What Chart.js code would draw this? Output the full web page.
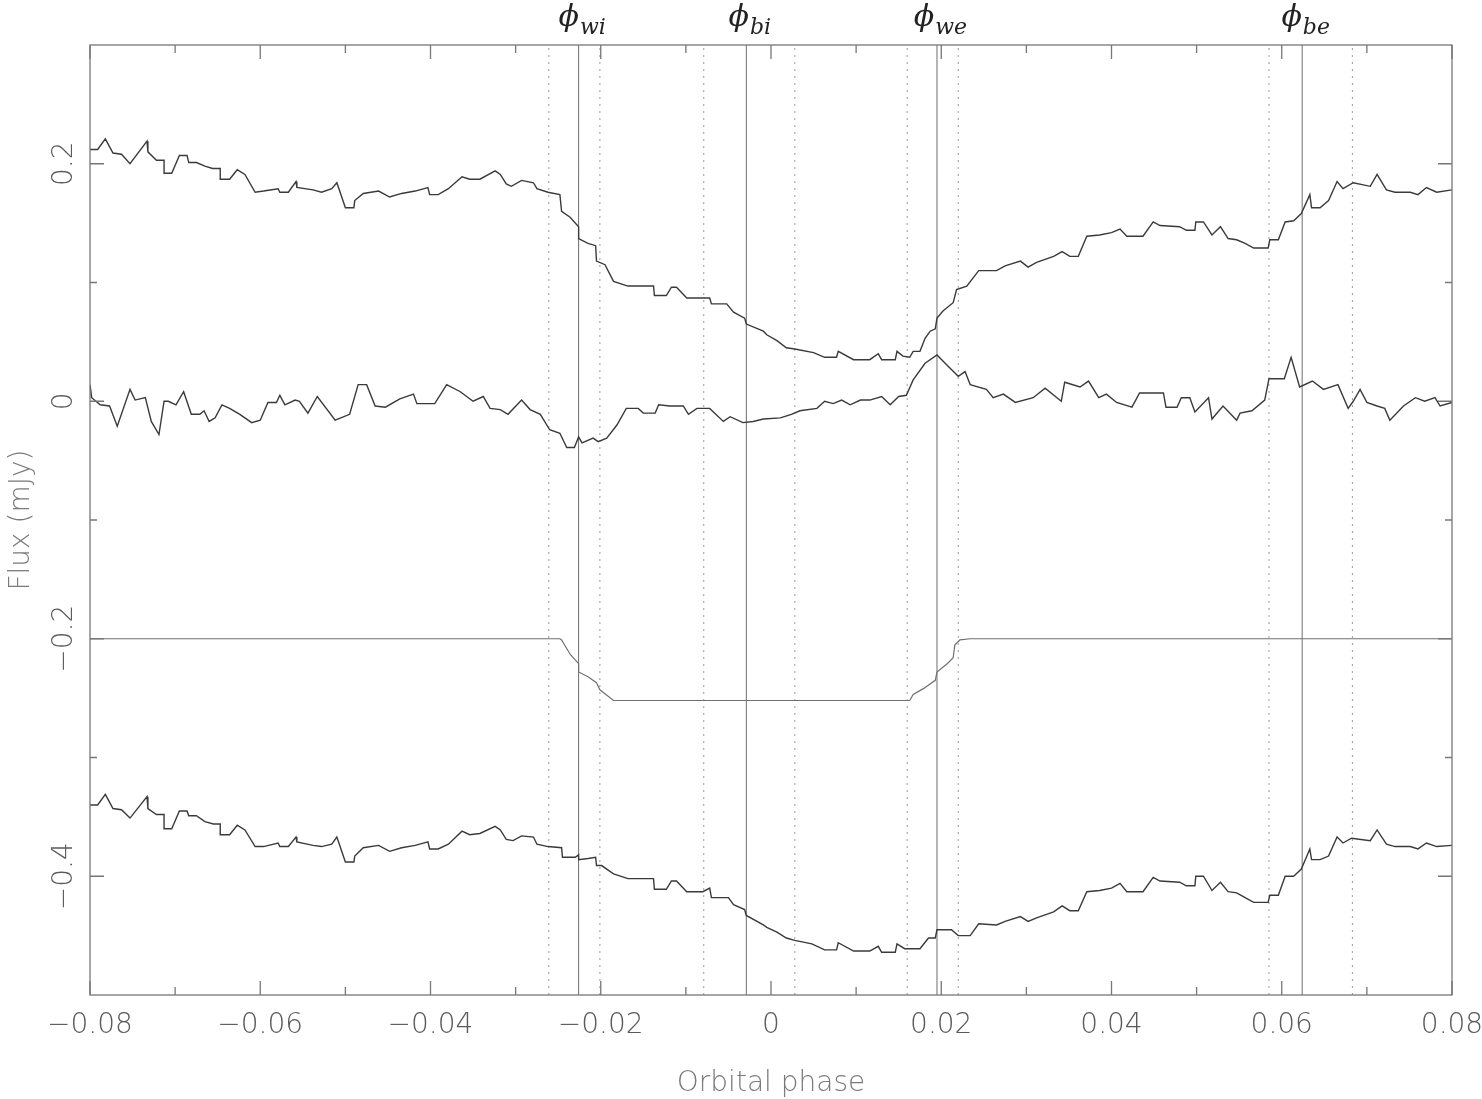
<!DOCTYPE html>
<html>
<head>
<meta charset="utf-8">
<script src="https://cdn.jsdelivr.net/npm/chart.js@4.4.0/dist/chart.umd.min.js"></script>
<style>
  html, body { margin: 0; padding: 0; background: #fff; }
  canvas { display: block; }
</style>
</head>
<body>
<canvas id="myChart" width="1482" height="1099"></canvas>
<script>
'use strict'

// observed light curve
const lcPhase = [-0.0800, -0.0791, -0.0782, -0.0773, -0.0763, -0.0753, -0.0733, -0.0732, -0.0722, -0.0713, -0.0713, -0.0704,
    -0.0695, -0.0686, -0.0684, -0.0675, -0.0665, -0.0656, -0.0647, -0.0647, -0.0636, -0.0627, -0.0618, -0.0606,
    -0.0596, -0.0579, -0.0577, -0.0567, -0.0558, -0.0557, -0.0538, -0.0528, -0.0516, -0.0510, -0.0500, -0.0490,
    -0.0489, -0.0479, -0.0461, -0.0448, -0.0434, -0.0418, -0.0403, -0.0401, -0.0391, -0.0379, -0.0363, -0.0354,
    -0.0342, -0.0324, -0.0318, -0.0311, -0.0305, -0.0293, -0.0279, -0.0275, -0.0262, -0.0248, -0.0246, -0.0236,
    -0.0226, -0.0226, -0.0215, -0.0206, -0.0205, -0.0195, -0.0185, -0.0168, -0.0138, -0.0137, -0.0123, -0.0117,
    -0.0111, -0.0099, -0.0072, -0.0070, -0.0052, -0.0044, -0.0031, -0.0029, -0.0009, -0.0005, 0.0007, 0.0018,
    0.0028, 0.0050, 0.0063, 0.0077, 0.0079, 0.0097, 0.0116, 0.0126, 0.0130, 0.0146, 0.0148, 0.0155,
    0.0163, 0.0167, 0.0175, 0.0181, 0.0187, 0.0193, 0.0195, 0.0202, 0.0214, 0.0218, 0.0230, 0.0244,
    0.0265, 0.0275, 0.0293, 0.0302, 0.0312, 0.0332, 0.0342, 0.0351, 0.0361, 0.0371, 0.0386, 0.0400,
    0.0410, 0.0418, 0.0437, 0.0449, 0.0457, 0.0480, 0.0488, 0.0498, 0.0499, 0.0508, 0.0518, 0.0528,
    0.0537, 0.0547, 0.0557, 0.0567, 0.0584, 0.0586, 0.0596, 0.0604, 0.0614, 0.0623, 0.0633, 0.0635,
    0.0645, 0.0655, 0.0665, 0.0672, 0.0684, 0.0704, 0.0712, 0.0723, 0.0733, 0.0751, 0.0760, 0.0770,
    0.0782, 0.0800];
const lcFlux = [0.212, 0.212, 0.221, 0.209, 0.208, 0.200, 0.219, 0.210, 0.203, 0.203, 0.192, 0.192,
    0.207, 0.207, 0.201, 0.201, 0.198, 0.196, 0.196, 0.187, 0.187, 0.195, 0.191, 0.176,
    0.177, 0.179, 0.176, 0.176, 0.185, 0.180, 0.178, 0.176, 0.179, 0.184, 0.163, 0.163,
    0.169, 0.175, 0.177, 0.172, 0.175, 0.177, 0.180, 0.174, 0.174, 0.179, 0.189, 0.187,
    0.187, 0.194, 0.191, 0.183, 0.181, 0.186, 0.184, 0.179, 0.176, 0.174, 0.160, 0.155,
    0.147, 0.137, 0.133, 0.131, 0.118, 0.115, 0.101, 0.097, 0.097, 0.089, 0.089, 0.096,
    0.096, 0.087, 0.087, 0.082, 0.082, 0.075, 0.070, 0.065, 0.059, 0.056, 0.051, 0.045,
    0.044, 0.041, 0.037, 0.037, 0.042, 0.035, 0.035, 0.040, 0.035, 0.035, 0.042, 0.038,
    0.037, 0.042, 0.042, 0.053, 0.059, 0.061, 0.070, 0.076, 0.083, 0.094, 0.097, 0.110,
    0.110, 0.114, 0.118, 0.113, 0.117, 0.122, 0.126, 0.122, 0.122, 0.139, 0.140, 0.142,
    0.145, 0.139, 0.139, 0.151, 0.148, 0.147, 0.144, 0.144, 0.151, 0.151, 0.140, 0.147,
    0.137, 0.136, 0.133, 0.129, 0.129, 0.136, 0.136, 0.151, 0.152, 0.158, 0.174, 0.163,
    0.163, 0.169, 0.185, 0.179, 0.184, 0.181, 0.191, 0.178, 0.176, 0.176, 0.174, 0.180,
    0.176, 0.178];

// residuals
const residPhase = [-0.0800, -0.0798, -0.0788, -0.0777, -0.0768, -0.0753, -0.0747, -0.0735, -0.0728, -0.0719, -0.0713, -0.0708,
    -0.0699, -0.0690, -0.0681, -0.0671, -0.0666, -0.0660, -0.0653, -0.0645, -0.0636, -0.0624, -0.0610, -0.0600,
    -0.0591, -0.0581, -0.0577, -0.0571, -0.0559, -0.0554, -0.0544, -0.0533, -0.0512, -0.0495, -0.0485, -0.0475,
    -0.0465, -0.0453, -0.0436, -0.0420, -0.0416, -0.0395, -0.0381, -0.0365, -0.0350, -0.0338, -0.0330, -0.0318,
    -0.0309, -0.0293, -0.0283, -0.0271, -0.0260, -0.0248, -0.0240, -0.0231, -0.0226, -0.0222, -0.0209, -0.0203,
    -0.0193, -0.0181, -0.0170, -0.0156, -0.0150, -0.0136, -0.0132, -0.0119, -0.0103, -0.0097, -0.0087, -0.0072,
    -0.0056, -0.0048, -0.0033, -0.0021, -0.0009, 0.0011, 0.0024, 0.0034, 0.0054, 0.0063, 0.0073, 0.0083,
    0.0093, 0.0105, 0.0116, 0.0130, 0.0140, 0.0150, 0.0159, 0.0167, 0.0181, 0.0195, 0.0206, 0.0220,
    0.0228, 0.0234, 0.0253, 0.0261, 0.0273, 0.0287, 0.0308, 0.0322, 0.0341, 0.0345, 0.0363, 0.0373,
    0.0385, 0.0394, 0.0406, 0.0424, 0.0433, 0.0461, 0.0464, 0.0477, 0.0482, 0.0492, 0.0498, 0.0514,
    0.0518, 0.0531, 0.0547, 0.0551, 0.0565, 0.0580, 0.0585, 0.0603, 0.0611, 0.0621, 0.0636, 0.0649,
    0.0666, 0.0678, 0.0684, 0.0692, 0.0700, 0.0712, 0.0721, 0.0727, 0.0743, 0.0757, 0.0768, 0.0780,
    0.0786, 0.0800];
const residFlux = [0.014, 0.003, -0.003, -0.004, -0.021, 0.010, 0.001, 0.003, -0.017, -0.028, 0.000, 0.000,
    -0.003, 0.008, -0.011, -0.011, -0.008, -0.017, -0.014, -0.003, -0.006, -0.011, -0.018, -0.016,
    -0.001, -0.001, 0.005, -0.003, 0.001, 0.000, -0.010, 0.004, -0.016, -0.011, 0.014, 0.014,
    -0.004, -0.005, 0.002, 0.006, -0.002, -0.002, 0.014, 0.008, 0.000, 0.004, -0.006, -0.007,
    -0.011, 0.001, -0.007, -0.011, -0.024, -0.027, -0.039, -0.039, -0.030, -0.035, -0.031, -0.034,
    -0.031, -0.020, -0.006, -0.006, -0.010, -0.010, -0.003, -0.004, -0.004, -0.011, -0.006, -0.006,
    -0.017, -0.013, -0.018, -0.017, -0.015, -0.014, -0.011, -0.008, -0.006, 0.000, -0.002, 0.001,
    -0.003, 0.001, 0.001, 0.004, -0.003, 0.004, 0.005, 0.018, 0.032, 0.039, 0.031, 0.021,
    0.025, 0.014, 0.010, 0.003, 0.006, -0.001, 0.003, 0.011, 0.000, 0.016, 0.012, 0.017,
    0.003, 0.006, -0.001, -0.005, 0.007, 0.007, -0.005, -0.005, 0.003, 0.003, -0.009, 0.003,
    -0.015, -0.004, -0.016, -0.010, -0.008, 0.001, 0.019, 0.019, 0.037, 0.012, 0.017, 0.010,
    0.014, -0.006, 0.000, 0.010, -0.001, -0.004, -0.006, -0.016, -0.004, 0.003, 0.000, 0.003,
    -0.004, -0.001];

// white dwarf model, offset
const wdPhase = [-0.0800, -0.0248, -0.0246, -0.0236, -0.0226, -0.0226, -0.0215, -0.0205, -0.0201, -0.0185,
    0.0163, 0.0167, 0.0179, 0.0193, 0.0195, 0.0207, 0.0214, 0.0216, 0.0222, 0.0234, 0.0800];
const wdFlux = [-0.200, -0.200, -0.201, -0.213, -0.221, -0.228, -0.232, -0.237, -0.243, -0.252,
    -0.252, -0.247, -0.242, -0.235, -0.228, -0.221, -0.216, -0.205, -0.201, -0.200, -0.200];

// light curve minus white dwarf, offset
const diskPhase = [-0.0800, -0.0791, -0.0782, -0.0773, -0.0763, -0.0753, -0.0733, -0.0732, -0.0722, -0.0713, -0.0713, -0.0704,
    -0.0695, -0.0686, -0.0684, -0.0675, -0.0665, -0.0655, -0.0647, -0.0647, -0.0636, -0.0627, -0.0618, -0.0606,
    -0.0596, -0.0579, -0.0577, -0.0567, -0.0558, -0.0557, -0.0538, -0.0528, -0.0516, -0.0510, -0.0500, -0.0490,
    -0.0489, -0.0479, -0.0461, -0.0448, -0.0434, -0.0418, -0.0403, -0.0401, -0.0391, -0.0379, -0.0363, -0.0354,
    -0.0342, -0.0324, -0.0318, -0.0311, -0.0303, -0.0293, -0.0279, -0.0275, -0.0262, -0.0246, -0.0245, -0.0230,
    -0.0226, -0.0226, -0.0215, -0.0206, -0.0205, -0.0199, -0.0185, -0.0168, -0.0138, -0.0137, -0.0123, -0.0117,
    -0.0111, -0.0099, -0.0080, -0.0072, -0.0070, -0.0050, -0.0044, -0.0031, -0.0029, -0.0009, -0.0005, 0.0007,
    0.0018, 0.0028, 0.0048, 0.0063, 0.0077, 0.0079, 0.0097, 0.0116, 0.0126, 0.0130, 0.0146, 0.0148,
    0.0157, 0.0175, 0.0185, 0.0193, 0.0195, 0.0212, 0.0220, 0.0234, 0.0244, 0.0265, 0.0275, 0.0293,
    0.0302, 0.0312, 0.0332, 0.0342, 0.0351, 0.0361, 0.0371, 0.0386, 0.0400, 0.0410, 0.0418, 0.0437,
    0.0449, 0.0457, 0.0480, 0.0488, 0.0498, 0.0499, 0.0508, 0.0518, 0.0528, 0.0537, 0.0547, 0.0557,
    0.0567, 0.0584, 0.0586, 0.0596, 0.0604, 0.0614, 0.0623, 0.0633, 0.0635, 0.0645, 0.0655, 0.0665,
    0.0672, 0.0682, 0.0704, 0.0712, 0.0723, 0.0733, 0.0751, 0.0760, 0.0770, 0.0782, 0.0800];
const diskFlux = [-0.340, -0.340, -0.331, -0.343, -0.344, -0.351, -0.333, -0.343, -0.348, -0.348, -0.360, -0.360,
    -0.345, -0.345, -0.349, -0.349, -0.354, -0.356, -0.356, -0.365, -0.365, -0.357, -0.361, -0.375,
    -0.375, -0.372, -0.375, -0.375, -0.367, -0.371, -0.374, -0.375, -0.373, -0.367, -0.388, -0.388,
    -0.383, -0.376, -0.374, -0.379, -0.376, -0.374, -0.371, -0.377, -0.377, -0.373, -0.362, -0.365,
    -0.364, -0.358, -0.361, -0.369, -0.370, -0.366, -0.367, -0.373, -0.375, -0.376, -0.384, -0.384,
    -0.382, -0.386, -0.385, -0.384, -0.391, -0.391, -0.398, -0.402, -0.402, -0.411, -0.411, -0.404,
    -0.404, -0.413, -0.413, -0.410, -0.418, -0.418, -0.424, -0.428, -0.433, -0.441, -0.443, -0.447,
    -0.452, -0.454, -0.457, -0.462, -0.462, -0.456, -0.463, -0.463, -0.459, -0.464, -0.464, -0.457,
    -0.461, -0.461, -0.452, -0.452, -0.445, -0.445, -0.450, -0.450, -0.440, -0.441, -0.438, -0.434,
    -0.438, -0.435, -0.430, -0.425, -0.429, -0.429, -0.413, -0.412, -0.410, -0.406, -0.413, -0.413,
    -0.401, -0.404, -0.405, -0.408, -0.408, -0.400, -0.400, -0.412, -0.405, -0.413, -0.414, -0.418,
    -0.422, -0.422, -0.416, -0.416, -0.400, -0.400, -0.394, -0.377, -0.386, -0.386, -0.383, -0.367,
    -0.372, -0.368, -0.370, -0.361, -0.373, -0.375, -0.375, -0.377, -0.372, -0.375, -0.374];

// contact phases (solid) and their limits (dotted)
const contactNames = ['wi', 'bi', 'we', 'be'];
const contactPhase = [-0.0226, -0.0029, 0.0195, 0.0624];
const contactLimits = [-0.0261, -0.0201, -0.0079, 0.0028, 0.0160, 0.0220, 0.0585, 0.0683];

const xTicks = [-0.08, -0.06, -0.04, -0.02, 0, 0.02, 0.04, 0.06, 0.08];
const xTickLabels = ['\u22120.08', '\u22120.06', '\u22120.04', '\u22120.02', '0', '0.02', '0.04', '0.06', '0.08'];
const xMinorTicks = [-0.07, -0.05, -0.03, -0.01, 0.01, 0.03, 0.05, 0.07];
const yTicks = [-0.4, -0.2, 0, 0.2];
const yTickLabels = ['\u22120.4', '\u22120.2', '0', '0.2'];
const yMinorTicks = [-0.3, -0.1, 0.1];

function pts(xs, ys) {
    return xs.map((x, i) => ({ x: x, y: ys[i] }));
}

function curve(xs, ys, color, width) {
    return {
        data: pts(xs, ys),
        borderColor: color,
        borderWidth: width,
        pointRadius: 0,
        tension: 0,
        fill: false
    };
}

function vline(p, dashed) {
    return {
        data: [{ x: p, y: -0.5 }, { x: p, y: 0.3 }],
        borderColor: dashed ? '#9a9a9a' : '#6e6e6e',
        borderWidth: 1,
        borderDash: dashed ? [2, 5] : [],
        pointRadius: 0,
        fill: false
    };
}

let datasets = [
    curve(lcPhase, lcFlux, '#3a3a3a', 1.4),
    curve(residPhase, residFlux, '#3a3a3a', 1.4),
    curve(wdPhase, wdFlux, '#707070', 1.2),
    curve(diskPhase, diskFlux, '#3a3a3a', 1.4)
];
contactPhase.forEach(p => datasets.push(vline(p, false)));
contactLimits.forEach(p => datasets.push(vline(p, true)));

const axesPlugin = {
    id: 'axesPlugin',
    afterDraw(chart) {
        const ctx = chart.ctx;
        const a = chart.chartArea;
        const x = chart.scales.x;
        const y = chart.scales.y;
        ctx.save();
        ctx.strokeStyle = '#777';
        ctx.lineWidth = 1.3;
        ctx.strokeRect(a.left, a.top, a.right - a.left, a.bottom - a.top);

        ctx.beginPath();
        function xTick(v, len) {
            const px = x.getPixelForValue(v);
            ctx.moveTo(px, a.bottom); ctx.lineTo(px, a.bottom - len);
            ctx.moveTo(px, a.top); ctx.lineTo(px, a.top + len);
        }
        function yTick(v, len) {
            const py = y.getPixelForValue(v);
            ctx.moveTo(a.left, py); ctx.lineTo(a.left + len, py);
            ctx.moveTo(a.right, py); ctx.lineTo(a.right - len, py);
        }
        xTicks.forEach(v => xTick(v, 14));
        xMinorTicks.forEach(v => xTick(v, 8));
        yTicks.forEach(v => yTick(v, 14));
        yMinorTicks.forEach(v => yTick(v, 7));
        ctx.stroke();

        ctx.fillStyle = '#5a5a5a';
        ctx.font = '200 28px "DejaVu Sans"';
        ctx.textAlign = 'center';
        ctx.textBaseline = 'alphabetic';
        xTicks.forEach((v, i) => {
            ctx.fillText(xTickLabels[i], x.getPixelForValue(v), a.bottom + 38);
        });
        yTicks.forEach((v, i) => {
            ctx.save();
            ctx.translate(a.left - 18, y.getPixelForValue(v));
            ctx.rotate(-Math.PI / 2);
            ctx.fillText(yTickLabels[i], 0, 0);
            ctx.restore();
        });

        ctx.fillStyle = '#7a7a7a';
        ctx.fillText('Orbital phase', (a.left + a.right) / 2, a.bottom + 96);
        ctx.save();
        ctx.translate(29, (a.top + a.bottom) / 2);
        ctx.rotate(-Math.PI / 2);
        ctx.fillText('Flux (mJy)', 0, 0);
        ctx.restore();

        // contact labels above the frame
        ctx.fillStyle = '#222';
        contactPhase.forEach((p, i) => {
            const px = x.getPixelForValue(p);
            ctx.font = 'italic 30px "DejaVu Serif"';
            const w1 = ctx.measureText('\u03d5').width;
            ctx.font = 'italic 22px "DejaVu Serif"';
            const w2 = ctx.measureText(contactNames[i]).width;
            const x0 = px + 3 - (w1 + w2) / 2;
            ctx.textAlign = 'left';
            ctx.font = 'italic 30px "DejaVu Serif"';
            ctx.fillText('\u03d5', x0, 26);
            ctx.font = 'italic 22px "DejaVu Serif"';
            ctx.fillText(contactNames[i], x0 + w1 + 1, 34);
        });
        ctx.restore();
    }
};

let ctx = document.getElementById('myChart');
let myChart = new Chart(ctx, {
    type: 'line',
    data: { datasets: datasets },
    options: {
        responsive: false,
        animation: false,
        devicePixelRatio: 1,
        layout: { padding: { left: 90, right: 30, top: 45, bottom: 104 } },
        plugins: { legend: { display: false }, tooltip: { enabled: false } },
        scales: {
            x: { type: 'linear', min: -0.08, max: 0.08, display: false },
            y: { type: 'linear', min: -0.5, max: 0.3, display: false }
        }
    },
    plugins: [axesPlugin]
});
</script>
</body>
</html>
